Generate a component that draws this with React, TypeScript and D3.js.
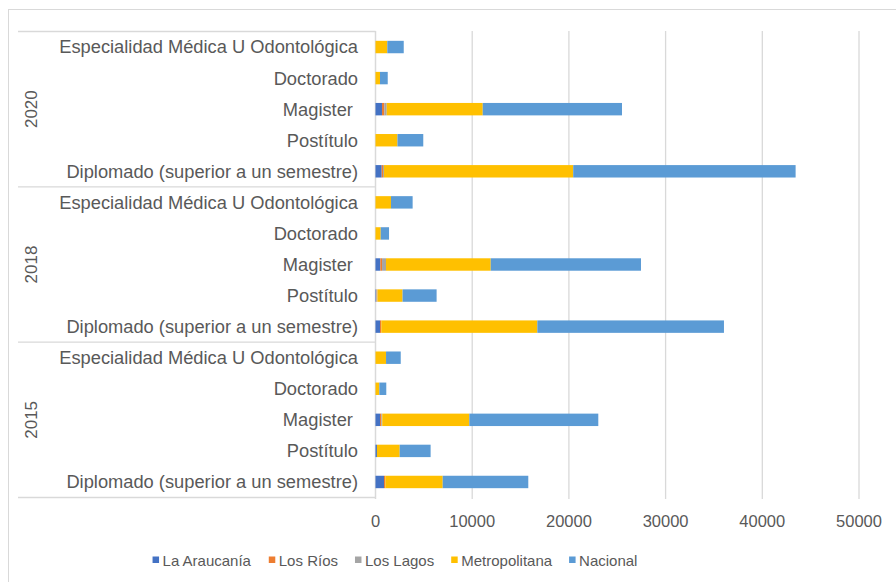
import React, { useMemo } from 'react';
import * as d3 from 'd3';

// years are shown top to bottom, programs top to bottom inside each year
const years = ['2020', '2018', '2015'];
const programs = [
  'Especialidad Médica U Odontológica',
  'Doctorado',
  'Magister ',
  'Postítulo',
  'Diplomado (superior a un semestre)',
];
const regions = ['La Araucanía', 'Los Ríos', 'Los Lagos', 'Metropolitana', 'Nacional'];
const colors = ['#4472C4', '#ED7D31', '#A5A5A5', '#FFC000', '#5B9BD5'];

// one value per row, same order as years x programs
const laAraucania = [0, 0, 670, 0, 640, 0, 0, 500, 50, 465, 0, 0, 465, 150, 880];
const losRios = [0, 0, 240, 0, 135, 0, 0, 175, 50, 140, 0, 0, 135, 0, 140];
const losLagos = [0, 0, 250, 0, 100, 0, 0, 410, 100, 0, 0, 0, 100, 0, 0];
const metropolitana = [1220, 465, 9930, 2270, 19570, 1600, 540, 10830, 2600, 16130, 1090, 395, 9000, 2350, 5930];
const nacional = [1700, 800, 14400, 2670, 23000, 2240, 860, 15540, 3520, 19300, 1520, 720, 13340, 3200, 8850];

const xTicks = [0, 10000, 20000, 30000, 40000, 50000];

const W = 896;
const H = 582;
const FONT = '"Liberation Sans", Arial, sans-serif';
const TEXT = '#595959';
const GRID = '#d9d9d9';

function measure(s: string, size: number) {
  const c = document.createElement('canvas').getContext('2d');
  if (!c) return s.length * size * 0.55;
  c.font = `${size}px "Liberation Sans", Arial, sans-serif`;
  return c.measureText(s).width;
}

export default function App() {
  const series = [laAraucania, losRios, losLagos, metropolitana, nacional];
  const rowKeys = years.flatMap((yr) => programs.map((p) => `${yr}|${p}`));
  const rows = rowKeys.map((k, i) => {
    const r: any = { key: k };
    regions.forEach((reg, j) => (r[reg] = series[j][i]));
    return r;
  });
  const stacked = d3.stack().keys(regions)(rows);

  const x = d3.scaleLinear().domain([0, 50000]).range([375.5, 859]);
  const y = d3.scaleBand().domain(rowKeys).range([31.5, 497.5]).paddingInner(0.6).paddingOuter(0.3);
  const yGroup = d3.scaleBand().domain(years).range([31.5, 497.5]);
  const rowCenter = (k: string) => (y(k) as number) + y.bandwidth() / 2;

  const legend = useMemo(() => {
    const sq = 6, gap = 4, between = 17, fs = 15;
    const widths = regions.map((r) => sq + gap + measure(r, fs));
    const total = d3.sum(widths) + between * (regions.length - 1);
    let cx = 395 - total / 2;
    return regions.map((r, i) => {
      const item = { name: r, color: colors[i], x: cx };
      cx += widths[i] + between;
      return item;
    });
  }, []);

  return (
    <svg width={W} height={H} style={{ position: 'absolute', left: 0, top: 0, background: '#fff' }} fontFamily={FONT}>
      <rect x={8.5} y={9.5} width={W} height={H} fill="#fff" stroke={GRID} />

      {/* gridlines */}
      {xTicks.slice(1).map((t) => (
        <line key={t} x1={x(t)} x2={x(t)} y1={31} y2={499} stroke={GRID} strokeWidth={1.3} />
      ))}
      <line x1={x(0)} x2={x(0)} y1={31} y2={499} stroke={GRID} strokeWidth={1.5} />

      {/* category axis separators */}
      {years.map((yr) => (
        <line key={yr} x1={18} x2={x(0)} y1={yGroup(yr)} y2={yGroup(yr)} stroke={GRID} strokeWidth={1.3} />
      ))}
      <line x1={18} x2={x(0)} y1={497.5} y2={497.5} stroke={GRID} strokeWidth={1.3} />

      {/* bars */}
      {stacked.map((s, i) => (
        <g key={s.key} fill={colors[i]}>
          {s.map((d: any) =>
            d[1] - d[0] > 0 ? (
              <rect
                key={d.data.key}
                x={x(d[0])}
                y={y(d.data.key)}
                width={x(d[1]) - x(d[0])}
                height={y.bandwidth()}
              />
            ) : null
          )}
        </g>
      ))}

      {/* program labels */}
      {rowKeys.map((k) => (
        <text
          key={k}
          x={358}
          y={rowCenter(k)}
          dy="0.35em"
          textAnchor="end"
          fontSize={18.3}
          fill={TEXT}
          style={{ whiteSpace: 'pre' }}
        >
          {k.split('|')[1]}
        </text>
      ))}

      {/* year labels */}
      {years.map((yr) => {
        const cy = (yGroup(yr) as number) + yGroup.bandwidth() / 2;
        return (
          <text
            key={yr}
            transform={`translate(31,${cy}) rotate(-90)`}
            dy="0.35em"
            textAnchor="middle"
            fontSize={17}
            fill={TEXT}
          >
            {yr}
          </text>
        );
      })}

      {/* value axis labels */}
      {xTicks.map((t) => (
        <text key={t} x={x(t)} y={527} textAnchor="middle" fontSize={16.5} fill={TEXT}>
          {t}
        </text>
      ))}

      {/* legend */}
      {legend.map((l) => (
        <g key={l.name} transform={`translate(${l.x},0)`}>
          <rect x={0} y={556.5} width={6.5} height={6.5} fill={l.color} />
          <text x={10} y={566} fontSize={15} fill={TEXT}>
            {l.name}
          </text>
        </g>
      ))}
    </svg>
  );
}
